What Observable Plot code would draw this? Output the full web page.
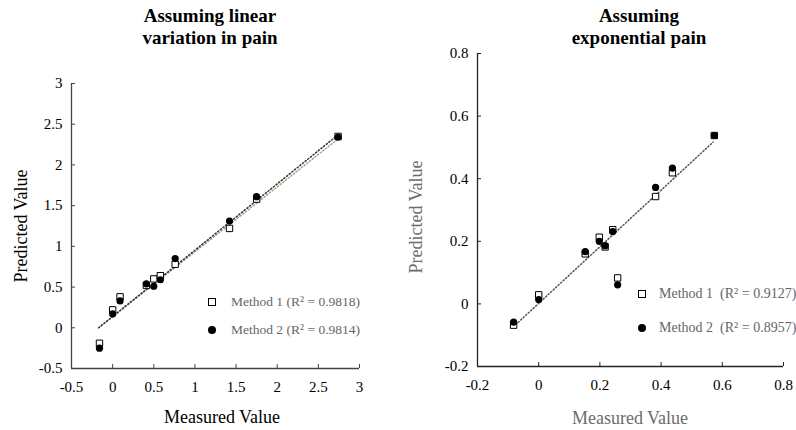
<!DOCTYPE html>
<html>
<head>
<meta charset="utf-8">
<script src="https://cdn.jsdelivr.net/npm/d3@7"></script>
<script src="https://cdn.jsdelivr.net/npm/@observablehq/plot@0.6"></script>
<style>
  body { margin: 0; background: #fff; }
  #wrap { position: relative; width: 796px; height: 430px; overflow: hidden; font-family: "Liberation Serif", "Times New Roman", Times, serif; }
  #wrap svg, #wrap svg text { font-family: "Liberation Serif", "Times New Roman", Times, serif !important; }
  .abs { position: absolute; white-space: nowrap; }
  .title { font-weight: bold; font-size: 19px; line-height: 22px; text-align: center; color: #000; }
  .axlab { font-size: 18px; line-height: 20px; }
  .leg { line-height: 20px; color: #666; }
  .sq { position: absolute; width: 6px; height: 6px; border: 1px solid #000; background: #fff; }
  .ci { position: absolute; width: 8px; height: 8px; border-radius: 50%; background: #000; }
</style>
</head>
<body>
<div id="wrap">
  <div id="left" class="abs" style="left:0;top:0"></div>
  <div id="right" class="abs" style="left:400px;top:0"></div>

  <div class="abs title" style="left:110px;width:200px;top:5px">Assuming linear<br>variation in pain</div>
  <div class="abs title" style="left:539px;width:200px;top:5px">Assuming<br>exponential pain</div>

  <div class="abs axlab" style="left:21px;top:226px;transform:translate(-50%,-50%) rotate(-90deg);color:#000">Predicted Value</div>
  <div class="abs axlab" style="left:222px;top:417px;transform:translate(-50%,-50%);color:#000">Measured Value</div>
  <div class="abs axlab" style="left:416px;top:217px;transform:translate(-50%,-50%) rotate(-90deg);color:#6b6b6b">Predicted Value</div>
  <div class="abs axlab" style="left:630px;top:418px;transform:translate(-50%,-50%);color:#6b6b6b">Measured Value</div>

  <div id="legL"></div>
  <div id="legR"></div>
</div>
<script>
// ---------- Data: left panel (linear variation in pain) ----------
const measuredL = [-0.16, 0.0, 0.09, 0.41, 0.50, 0.58, 0.76, 1.42, 1.75, 2.74];
const method1L  = [-0.19, 0.22, 0.38, 0.52, 0.60, 0.64, 0.78, 1.22, 1.58, 2.35];
const method2L  = [-0.25, 0.17, 0.33, 0.54, 0.51, 0.59, 0.85, 1.31, 1.61, 2.34];
const trendXL   = [-0.17, 2.74];
const trend1L   = [0.0, 2.32];
const trend2L   = [0.0, 2.37];
const ticksL    = [-0.5, 0, 0.5, 1, 1.5, 2, 2.5, 3];
const legendL   = ["Method 1\u00a0(R\u00b2 = 0.9818)", "Method 2\u00a0(R\u00b2 = 0.9814)"];

// ---------- Data: right panel (exponential pain) ----------
const measuredR = [-0.082, 0.0, 0.152, 0.198, 0.217, 0.242, 0.258, 0.382, 0.437, 0.574];
const method1R  = [-0.068, 0.029, 0.160, 0.213, 0.182, 0.237, 0.083, 0.343, 0.419, 0.538];
const method2R  = [-0.058, 0.014, 0.167, 0.200, 0.186, 0.231, 0.061, 0.372, 0.434, 0.538];
const trendXR   = [-0.075, 0.570];
const trendYR   = [-0.066, 0.517];
const ticksR    = [-0.2, 0, 0.2, 0.4, 0.6, 0.8];
const legendR   = ["Method 1\u00a0\u00a0(R\u00b2 = 0.9127)", "Method 2\u00a0\u00a0(R\u00b2 = 0.8957)"];

const fmt = d => String(d);
const FONT = "'Liberation Serif', 'Times New Roman', Times, serif";

function panel({measured, m1, m2, trends, ticks, width, height, margins, axisColor}) {
  const [mt, mr, mb, ml] = margins;
  const pts1 = measured.map((x, i) => ({x, y: m1[i]}));
  const pts2 = measured.map((x, i) => ({x, y: m2[i]}));
  const dom = [ticks[0], ticks[ticks.length - 1]];
  const marks = [
    Plot.ruleX([dom[0]], {stroke: axisColor, strokeWidth: 1.3}),
    Plot.ruleY([dom[0]], {stroke: axisColor, strokeWidth: 1.3}),
    Plot.axisY({ticks, tickFormat: fmt, tickSize: -4, tickPadding: 13, stroke: axisColor, fill: "#000", fontFamily: FONT}),
    Plot.axisX({ticks, tickFormat: fmt, tickSize: -4, tickPadding: 17, stroke: axisColor, fill: "#000", fontFamily: FONT})
  ];
  for (const t of trends) {
    marks.push(Plot.line(t.x.map((x, i) => ({x, y: t.y[i]})), {x: "x", y: "y", stroke: t.color, strokeWidth: 1.5, strokeDasharray: "1.2,2.2"}));
  }
  marks.push(Plot.dot(pts1, {x: "x", y: "y", symbol: "square", r: 3.6, fill: "#fff", stroke: "#000", strokeWidth: 1}));
  marks.push(Plot.dot(pts2, {x: "x", y: "y", symbol: "circle", r: 3.6, fill: "#000", stroke: "none"}));
  return Plot.plot({
    width, height,
    marginTop: mt, marginRight: mr, marginBottom: mb, marginLeft: ml,
    x: {domain: dom, label: null},
    y: {domain: dom, label: null},
    style: {fontFamily: FONT, fontSize: "15px", background: "transparent", color: "#000"},
    marks
  });
}

document.getElementById("left").append(panel({
  measured: measuredL, m1: method1L, m2: method2L,
  trends: [
    {x: trendXL, y: trend1L, color: "#a3a38a"},
    {x: trendXL, y: trend2L, color: "#333"}
  ],
  ticks: ticksL, width: 400, height: 430, margins: [83, 41, 62, 71], axisColor: "#444"
}));

document.getElementById("right").append(panel({
  measured: measuredR, m1: method1R, m2: method2R,
  trends: [{x: trendXR, y: trendYR, color: "#555"}],
  ticks: ticksR, width: 396, height: 430, margins: [53, 13, 64, 77], axisColor: "#222"
}));

function legend(id, items, sx, ys, tx, fontSize) {
  const el = document.getElementById(id);
  items.forEach((label, i) => {
    const sym = document.createElement("div");
    sym.className = i === 0 ? "sq" : "ci";
    sym.style.left = (sx - 4) + "px";
    sym.style.top = (ys[i] - 4) + "px";
    el.append(sym);
    const t = document.createElement("div");
    t.className = "abs leg";
    t.style.fontSize = fontSize + "px";
    t.style.left = tx + "px";
    t.style.top = (ys[i] - 10) + "px";
    t.textContent = label;
    el.append(t);
  });
}
legend("legL", legendL, 212, [302, 330], 231, 13.5);
legend("legR", legendR, 642, [294, 328], 659, 14);
</script>
</body>
</html>
